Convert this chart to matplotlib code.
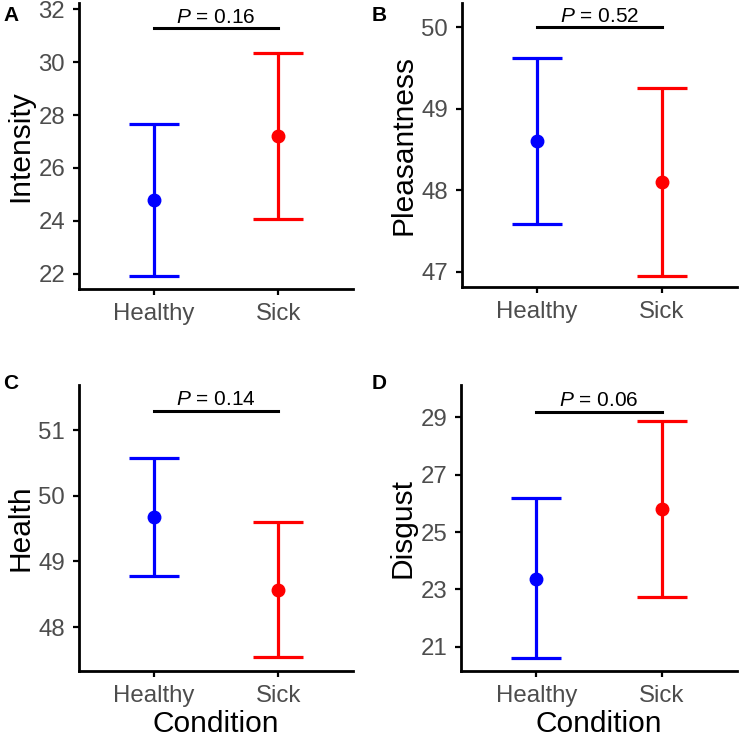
import numpy as np
import matplotlib
matplotlib.use('Agg')
import matplotlib.pyplot as plt

plt.rcParams['font.family'] = ['Liberation Sans', 'DejaVu Sans']
plt.rcParams['mathtext.fontset'] = 'custom'
plt.rcParams['mathtext.it'] = 'Liberation Sans:italic'
plt.rcParams['mathtext.rm'] = 'Liberation Sans'

# данные
conditions = ['Healthy', 'Sick']
colors = ['#0000FF', '#FF0000']

intensity_mean = [24.80, 27.21]
intensity_lo = [21.92, 24.08]
intensity_hi = [27.66, 30.35]

pleas_mean = [48.61, 48.10]
pleas_lo = [47.59, 46.95]
pleas_hi = [49.63, 49.26]

health_mean = [49.68, 48.57]
health_lo = [48.78, 47.54]
health_hi = [50.58, 49.60]

disgust_mean = [23.37, 25.82]
disgust_lo = [20.61, 22.73]
disgust_hi = [26.17, 28.88]

p_values = ['0.16', '0.52', '0.14', '0.06']
p_bar_y = [31.28, 50.00, 51.30, 29.20]

panels = [
    ('A', 'Intensity', intensity_mean, intensity_lo, intensity_hi, (21.43, 32.23), [22, 24, 26, 28, 30, 32]),
    ('B', 'Pleasantness', pleas_mean, pleas_lo, pleas_hi, (46.81, 50.30), [47, 48, 49, 50]),
    ('C', 'Health', health_mean, health_lo, health_hi, (47.33, 51.69), [48, 49, 50, 51]),
    ('D', 'Disgust', disgust_mean, disgust_lo, disgust_hi, (20.15, 30.13), [21, 23, 25, 27, 29]),
]

# положения осей в пикселях (left, top, right, bottom)
boxes = [(79, 3, 353, 289), (462, 3, 737, 287), (79, 385, 353, 671), (461, 385, 737, 671)]
letter_pos = [(3, 21), (372, 21), (3, 389), (372, 389)]

W = 739
fig = plt.figure(figsize=(W / 100, W / 100), dpi=100)

for i, (letter, ylabel, mean, lo, hi, ylim, yticks) in enumerate(panels):
    l, t, r, b = boxes[i]
    ax = fig.add_axes([l / W, 1 - b / W, (r - l) / W, (b - t) / W])
    x = np.arange(1, len(conditions) + 1)
    for j in range(len(conditions)):
        yerr = [[mean[j] - lo[j]], [hi[j] - mean[j]]]
        ax.errorbar(x[j], mean[j], yerr=yerr, color=colors[j], fmt='o',
                    markersize=9, elinewidth=2.3, capsize=18, capthick=2.3)
    # линия со значением P
    ax.plot([1, 2], [p_bar_y[i], p_bar_y[i]], color='black', lw=2.2, clip_on=False)
    ax.annotate(r'$P$ = ' + p_values[i], xy=(1.5, p_bar_y[i]), xytext=(0, 1),
                textcoords='offset points', ha='center', va='bottom',
                fontsize=15, annotation_clip=False)

    ax.set_xlim(0.4, 2.6)
    ax.set_ylim(*ylim)
    ax.set_xticks(x)
    ax.set_xticklabels(conditions)
    ax.set_yticks(yticks)
    ax.set_ylabel(ylabel, fontsize=21.5, labelpad=3)
    if i >= 2:
        ax.set_xlabel('Condition', fontsize=21.5, labelpad=2.5)
    for s in ['top', 'right']:
        ax.spines[s].set_visible(False)
    for s in ['left', 'bottom']:
        ax.spines[s].set_linewidth(2.0)
    ax.tick_params(axis='both', labelsize=17.3, labelcolor='#4D4D4D',
                   length=4.5, width=1.6, pad=5.5)
    fig.text(letter_pos[i][0] / W, 1 - letter_pos[i][1] / W, letter,
             fontsize=15, fontweight='bold', ha='left', va='baseline')

fig.savefig('out.png', dpi=100)
